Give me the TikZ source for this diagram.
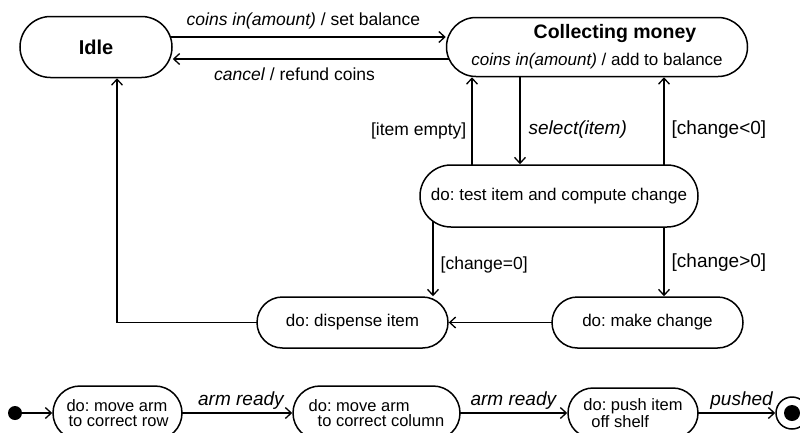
\documentclass[tikz,border=0pt]{standalone}
\usepackage{fontspec}
\setmainfont{Liberation Sans}
\usetikzlibrary{arrows.meta,shapes.misc}
\pgfdeclarelayer{bg}
\pgfsetlayers{bg,main}
\frenchspacing
\begin{document}
\begin{tikzpicture}[x=1pt,y=-1pt,
  state/.style={rounded rectangle, draw, line width=1.5pt, fill=white, inner sep=0pt,
    font=\fontsize{17}{20}\selectfont},
  small/.style={font=\fontsize{16.5}{15}\selectfont, align=left},
  trans/.style={line width=1.3pt, -{Straight Barb[length=6pt,width=11pt,line width=1.3pt]}},
  lab/.style={font=\fontsize{17.5}{20}\selectfont, inner sep=0pt},
  blab/.style={font=\fontsize{19}{20}\selectfont, inner sep=0pt},
]
\useasboundingbox (0,0) rectangle (800,432);

% states
\node[state, minimum width=152pt, minimum height=61pt,
      font=\bfseries\fontsize{20}{22}\selectfont] (idle) at (96,47) {Idle};
\node[state, minimum width=301pt, minimum height=59pt, align=center,
      font=\fontsize{17}{27}\selectfont] (coll) at (597,47)
  {\hspace*{36pt}{\bfseries\fontsize{19.5}{22}\selectfont Collecting money}\\
   \textit{coins in(amount)} / add to balance};
\node[state, minimum width=278pt, minimum height=62pt] (test) at (559,196)
  {do: test item and compute change};
\node[state, minimum width=191pt, minimum height=51pt] (disp) at (352.5,322.5)
  {do: dispense item};
\node[state, minimum width=191pt, minimum height=51pt] (make) at (647.5,322.5)
  {do: make change};

% bottom row
\node[circle, fill, minimum size=14pt, inner sep=0pt] (init) at (15,413) {};
\node[state, small, minimum width=129pt, minimum height=54pt] (n1) at (117.5,413)
  {do: move arm\\\hspace*{2pt}to correct row};
\node[state, small, minimum width=167pt, minimum height=54pt] (n2) at (376.5,413)
  {do: move arm\\\hspace*{9pt}to correct column};
\node[state, small, minimum width=130pt, minimum height=50pt] (n3) at (633,413)
  {do: push item\\\hspace*{8pt}off shelf};
\node[circle, draw, line width=1.5pt, fill=white, minimum size=32pt, inner sep=0pt] (fin) at (792,413) {};
\fill (fin.center) circle (8pt);

% helper coordinates
\coordinate (yA) at (0,37);
\coordinate (yB) at (0,59);
\coordinate (xa) at (472,0);
\coordinate (xb) at (520,0);
\coordinate (xc) at (664,0);
\coordinate (xd) at (433,0);
\coordinate (xe) at (117,0);

\begin{pgfonlayer}{bg}
\fill[white] (0,0) rectangle (800,432);
\draw[trans] (idle.center |- yA) -- (coll.west |- yA)
  node[lab, pos=0.593, anchor=base, yshift=12pt] {\textit{coins in(amount)} / set balance};
\draw[trans] (coll.center |- yB) -- (idle.east |- yB)
  node[lab, pos=0.713, anchor=base, yshift=-21pt] {\textit{cancel} / refund coins};
\draw[trans] (test.center -| xa) -- (coll.south -| xa)
  node[lab, pos=0.51, anchor=base east, xshift=-5pt] {[item empty]};
\draw[trans] (coll.center -| xb) -- (test.north -| xb)
  node[blab, pos=0.745, anchor=base west, xshift=8pt] {\textit{select(item)}};
\draw[trans] (test.center -| xc) -- (coll.south -| xc)
  node[blab, pos=0.515, anchor=base west, xshift=7pt] {[change<0]};
\draw[trans] (test.center -| xd) -- (disp.north -| xd)
  node[lab, pos=0.73, anchor=base west, xshift=7pt] {[change=0]};
\draw[trans] (test.center -| xc) -- (make.north -| xc)
  node[blab, pos=0.71, anchor=base west, xshift=7pt] {[change>0]};
\draw[trans] (make.center) -- (disp.east);
\draw[trans] (disp.center) -| (idle.south -| xe);
\draw[trans] (init.center) -- (n1.west);
\draw[trans] (n1.center) -- (n2.west)
  node[blab, pos=0.709, anchor=base, yshift=8pt] {\textit{arm ready}};
\draw[trans] (n2.center) -- (n3.west)
  node[blab, pos=0.72, anchor=base, yshift=8pt] {\textit{arm ready}};
\draw[trans] (n3.center) -- (fin.west)
  node[blab, pos=0.765, anchor=base, yshift=8pt] {\textit{pushed}};
\end{pgfonlayer}
\end{tikzpicture}
\end{document}
